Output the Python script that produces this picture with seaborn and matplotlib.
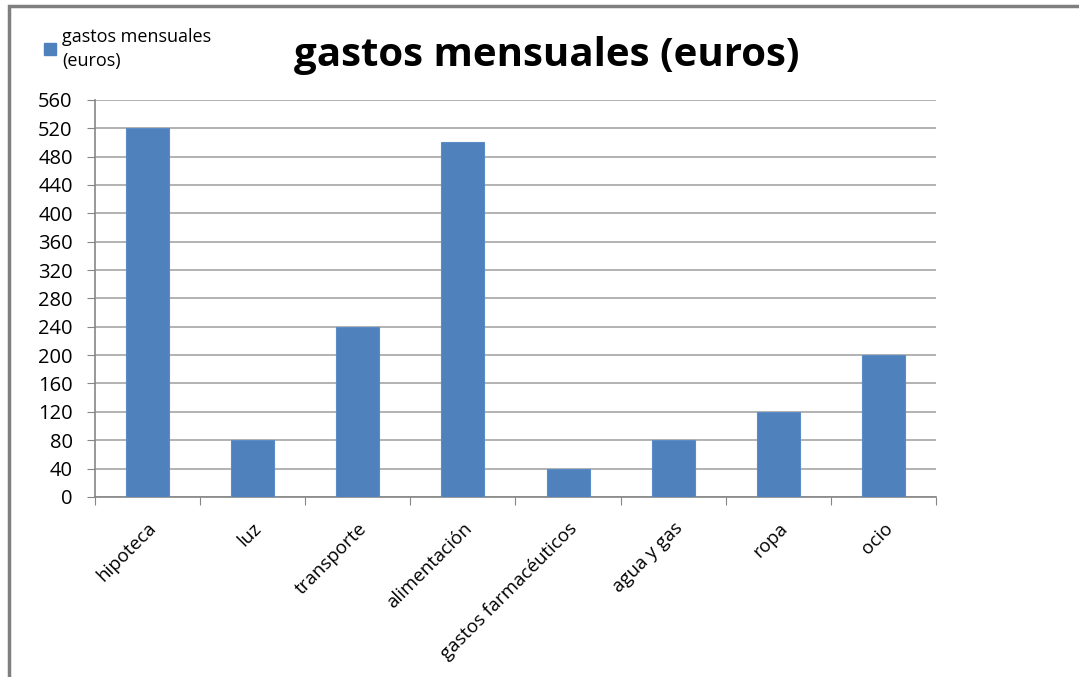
import matplotlib
matplotlib.use("Agg")
import matplotlib.pyplot as plt
import matplotlib.patches as mpatches
import seaborn as sns
import pandas as pd

categorias = ['hipoteca', 'luz', 'transporte', 'alimentación', 'gastos farmacéuticos',
              'agua y gas', 'ropa', 'ocio']
gastos = [520, 80, 240, 500, 40, 80, 120, 200]
yticks = list(range(0, 561, 40))

sns.set_style("white")
plt.rcParams['font.family'] = ['Open Sans', 'DejaVu Sans']
plt.rcParams['text.color'] = 'black'
plt.rcParams['xtick.labelcolor'] = 'black'
plt.rcParams['ytick.labelcolor'] = 'black'

df = pd.DataFrame({'categoria': categorias, 'gastos': gastos})

fig = plt.figure(figsize=(10.79, 6.77), dpi=100)
ax = fig.add_axes([0.088, 0.266, 0.7795, 0.5864])

sns.barplot(data=df, x='categoria', y='gastos', color='#4F81BD', saturation=1,
            width=0.41, ax=ax, zorder=3, edgecolor='#5B8CC6', linewidth=0.8)

ax.set_ylim(0, 560)
ax.set_xlim(-0.5, len(categorias) - 0.5)
ax.set_yticks(yticks)
ax.set_yticklabels([str(v) for v in yticks], fontsize=14.5)
ax.yaxis.grid(True, color='#A6A6A6', linewidth=1.2, zorder=0)
ax.set_axisbelow(True)

# category boundary ticks like the spreadsheet chart
ax.set_xticks([i - 0.5 for i in range(len(categorias) + 1)], minor=False)
ax.set_xticklabels([''] * (len(categorias) + 1))
ax.set_xticks(range(len(categorias)), minor=True)
ax.set_xticklabels(categorias, minor=True, rotation=45, ha='right',
                   rotation_mode='anchor', fontsize=13.5)
ax.tick_params(axis='x', which='major', direction='out', length=6, color='#868686', bottom=True)
ax.tick_params(axis='x', which='minor', length=0, pad=16)
ax.tick_params(axis='y', direction='out', length=6, color='#868686', left=True, pad=10)

for s in ['top', 'right']:
    ax.spines[s].set_visible(False)
for s in ['left', 'bottom']:
    ax.spines[s].set_color('#868686')
    ax.spines[s].set_linewidth(1.2)

ax.set_xlabel('')
ax.set_ylabel('')

fig.text(0.507, 0.918, 'gastos mensuales (euros)', ha='center', va='center',
         fontsize=29, fontweight='bold', color='black')

handle = mpatches.Patch(color='#4F81BD')
leg = fig.legend([handle], ['gastos mensuales\n(euros)'], loc='upper left',
                 bbox_to_anchor=(0.034, 0.97), frameon=False, fontsize=13,
                 handlelength=0.65, handleheight=0.65, handletextpad=0.35,
                 borderaxespad=0)
for t in leg.get_texts():
    t.set_linespacing(1.45)

border = mpatches.Rectangle((9 / 1079, -0.05), 1.1, 1 - 6 / 677 + 0.05,
                            transform=fig.transFigure, fill=False,
                            edgecolor='#7F7F7F', linewidth=2.5)
fig.patches.append(border)

fig.savefig('out.png', dpi=100)
